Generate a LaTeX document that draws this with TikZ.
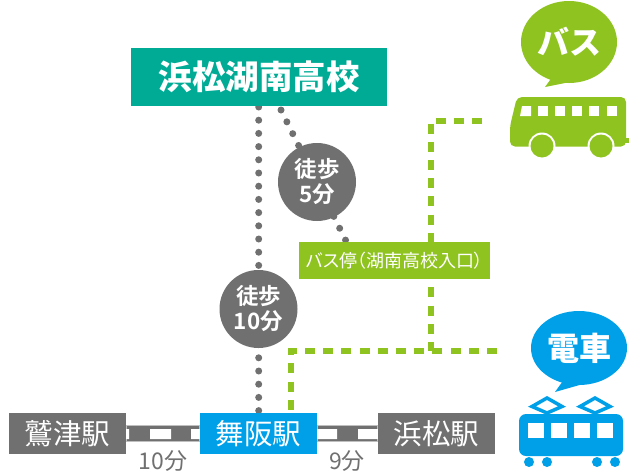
\documentclass[tikz,border=0pt]{standalone}
\usepackage{fontspec}
\setmainfont{Noto Sans CJK JP}
\newfontfamily\jpbold{Noto Sans CJK JP Bold}
\newfontfamily\jpblack{Noto Sans CJK JP Black}
\newfontfamily\jpprop[RawFeature=+palt]{Noto Sans CJK JP}
\usetikzlibrary{backgrounds,calc}
\definecolor{teal1}{HTML}{00AB96}
\definecolor{grey1}{HTML}{717071}
\definecolor{green1}{HTML}{8FC31F}
\definecolor{blue1}{HTML}{00A0E9}
\tikzset{
  px/.style={x=1pt,y=-1pt},
  stationbox/.style={fill=grey1,text=white,minimum width=117pt,minimum height=41pt,inner sep=0pt,font=\fontsize{28.5}{30}\selectfont},
  walkcircle/.style={circle,fill=grey1,text=white,minimum size=78pt,inner sep=0pt,align=center,font=\jpbold\fontsize{22.5}{25}\selectfont},
  dotline/.style={grey1,line width=7pt,line cap=round,dash pattern=on 0pt off 13.2pt},
  greendash/.style={green1,line width=6pt,dash pattern=on 10pt off 8.2pt},
  timelabel/.style={text=grey1,inner sep=0pt,font=\fontsize{23}{25}\selectfont},
  bubbletext/.style={text=white,inner sep=0pt,font=\jpblack\fontsize{32}{34}\selectfont},
  railband/.style={fill=grey1,draw=black!25,line width=1pt},
}
\begin{document}
\begin{tikzpicture}[px]
\useasboundingbox (0,0) rectangle (629,474);
% nodes
\node[fill=teal1,text=white,minimum width=256pt,minimum height=58pt,inner sep=0pt,font=\jpblack\fontsize{33.5}{35}\selectfont] (school) at (259,77) {浜松湖南高校};
\node[walkcircle] (walkA) at (317,182) {徒歩\\[0pt]5分};
\node[walkcircle] (walkB) at (258.5,309) {徒歩\\[0pt]10分};
\node[fill=green1,text=white,minimum width=191pt,minimum height=37pt,inner sep=0pt,font=\jpprop\fontsize{18}{20}\selectfont] (stop) at (394.5,260.5) {バス停（湖南高校入口）};
\node[stationbox] (washizu) at (67.5,433.5) {鷲津駅};
\node[stationbox,fill=blue1] (maisaka) at (258.5,433.5) {舞阪駅};
\node[stationbox] (hamamatsu) at (436.5,433.5) {浜松駅};
\node[timelabel] (t10) at (163,461) {10分};
\node[timelabel] (t9) at (347,461) {9分};
\coordinate (busEnd) at (482,120.5);
\coordinate (trainEnd) at (497,351);
\coordinate (busCorner) at (430.5,120.5);
\coordinate (trainCorner) at (291,351);
\coordinate (junction) at (430.5,351);
% connectors behind nodes
\begin{scope}[on background layer]
  \path[railband] (washizu.east |- 0,425.5) rectangle (maisaka.west |- 0,441.5);
  \path[railband] (maisaka.east |- 0,425.5) rectangle (hamamatsu.west |- 0,441.5);
  \fill[white] (126,429) rectangle (129,439) (150,429) rectangle (171,439) (191,429) rectangle (200,439);
  \fill[white] (317,429) rectangle (337,439) (358,429) rectangle (378,439);
  \draw[dotline] (258.7,107) -- (258.7,413);
  \draw[dotline] (281,110) -- (346,241);
  \draw[greendash] (busEnd) -- (busCorner) -- (junction);
  \draw[greendash] (trainEnd) -- (trainCorner) -- (trainCorner |- maisaka.north);
\end{scope}
% bus bubble
\fill[green1] (569,42) ellipse [x radius=48,y radius=41];
\fill[green1] (553,76) -- (545,87) -- (580,80) -- cycle;
\node[bubbletext] (busLabel) at (569,42) {バス};
% bus
\fill[green1,rounded corners=5pt] (510,146.5) -- (510,126) -- (517,97) -- (626,97) -- (626,146.5) -- cycle;
\fill[green1] (622,138) rectangle (629,142.5);
\fill[white] (522,106) -- (531,106) -- (531,116) -- (520,116) -- cycle;
\foreach \wx in {538,555,572,589,607}
  \fill[white] (\wx,106) rectangle +(10,10);
\foreach \wx in {542,601}{
  \fill[white] (\wx,146) circle (13.5);
  \fill[green1] (\wx,146) circle (11.5);
}
% train bubble
\fill[blue1] (579,348) ellipse [x radius=48,y radius=37];
\fill[blue1] (565,378) -- (555,392) -- (590,382) -- cycle;
\node[bubbletext] (trainLabel) at (579,348) {電車};
% train
\fill[blue1,rounded corners=7pt] (519,414) rectangle (623,456);
\foreach \wx in {528,551,574,597}
  \fill[white] (\wx,423) rectangle +(16,15);
\foreach \wx in {547,595}
  \draw[blue1,line width=3.5pt] (\wx-15,406.5) -- (\wx,398) -- (\wx+15,406.5) -- (\wx,413) -- cycle;
\foreach \wx in {529,547,597,615}
  \fill[blue1] (\wx,462) circle (5);
\end{tikzpicture}
\end{document}
